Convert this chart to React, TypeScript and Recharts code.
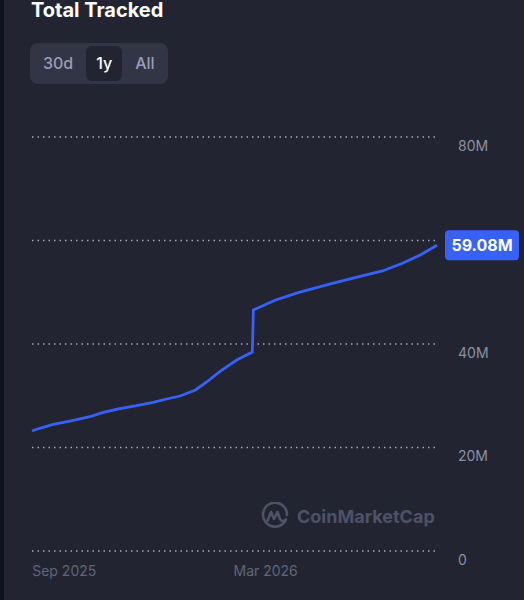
import { ComposedChart, Line, XAxis, YAxis, CartesianGrid, ReferenceDot } from "recharts";

const dates = [
  "2025-08-03", "2025-08-10", "2025-08-22", "2025-09-06", "2025-09-24", "2025-10-06",
  "2025-10-21", "2025-11-05", "2025-11-20", "2025-12-02", "2025-12-14", "2025-12-28",
  "2026-01-07", "2026-01-19", "2026-02-03", "2026-02-17", "2026-02-18", "2026-03-10",
  "2026-03-31", "2026-04-30", "2026-05-24", "2026-06-14", "2026-07-02", "2026-07-18",
  "2026-08-02",
];
const totals = [
  23.19, 23.71, 24.48, 25.12, 25.95, 26.8,
  27.5, 28.08, 28.73, 29.37, 29.95, 31.11,
  32.66, 34.72, 36.91, 38.45, 46.57, 48.5,
  49.99, 51.73, 53.01, 54.11, 55.59, 57.2,
  59.08,
];
const yTicks = [0, 20, 40, 60, 80];
const xTickDates = ["2025-09-01", "2026-03-01"];
const xTickLabels = ["Sep 2025", "Mar 2026"];
const latestLabel = "59.08M";
const ranges = ["30d", "1y", "All"];
const activeRange = "1y";

const BLUE = "#3861FB";
const FONT = "Inter, 'Noto Sans', sans-serif";

const data = dates.map((d, i) => ({ t: Date.parse(d), total: totals[i] }));
const xTicks = xTickDates.map((d) => Date.parse(d));
const last = data[data.length - 1];

// the price tag sits on top of the axis label it overlaps, so that label is not drawn
const YTick = ({ x, y, payload }: any) => {
  if (Math.abs(payload.value - last.total) < 4) return <g />;
  return (
    <text x={x} y={y + 9} dy="0.355em" textAnchor="start" fill="#8b90a4" fontSize={14} fontFamily={FONT}>
      {payload.value === 0 ? "0" : `${payload.value}M`}
    </text>
  );
};

const XTick = ({ x, y, payload }: any) => (
  <text x={x} y={y + 20} dy="0.355em" textAnchor="middle" fill="#5f667b" fontSize={14} fontFamily={FONT}>
    {xTickLabels[xTicks.indexOf(payload.value)]}
  </text>
);

const PriceTag = ({ cx, cy }: any) => (
  <g>
    <rect x={cx + 8} y={cy - 15} width={74} height={30} rx={4} fill={BLUE} />
    <text x={cx + 45} y={cy} dy="0.355em" textAnchor="middle" fill="#fff" fontSize={16} fontWeight={700} fontFamily={FONT}>
      {latestLabel}
    </text>
  </g>
);

export default function App() {
  return (
    <div style={{ position: "fixed", top: 0, left: 0, width: 524, height: 600, background: "#222531", fontFamily: FONT, overflow: "hidden" }}>
      <div style={{ position: "absolute", left: 0, top: 0, width: 4, height: 600, background: "#0c1220" }} />
      <div style={{ position: "absolute", left: 31, top: 0, fontSize: 20, lineHeight: "20px", fontWeight: 700, color: "#fff" }}>
        Total Tracked
      </div>
      <div style={{ position: "absolute", left: 30, top: 43, height: 41, boxSizing: "border-box", padding: 3, gap: 3, display: "flex", background: "#323546", borderRadius: 8 }}>
        {ranges.map((r) => (
          <div key={r} style={{ height: 35, lineHeight: "35px", padding: "0 10px", borderRadius: 6, fontSize: 16, fontWeight: 500, color: r === activeRange ? "#fff" : "#9a9fb3", background: r === activeRange ? "#222531" : "transparent" }}>
            {r}
          </div>
        ))}
      </div>

      <div style={{ position: "absolute", left: 261, top: 502, display: "flex", alignItems: "center", gap: 8, color: "#4d5266" }}>
        <svg width={28} height={28} viewBox="0 0 28 28">
          <path d="M 24.5 18.5 A 12 12 0 1 1 26 13" fill="none" stroke="#4d5266" strokeWidth={2.6} strokeLinecap="round" />
          <path d="M 6.5 19 L 10 10 L 13 17 L 16.5 10 L 19 17 Q 21 21 25 17.5" fill="none" stroke="#4d5266" strokeWidth={2.6} strokeLinecap="round" strokeLinejoin="round" />
        </svg>
        <span style={{ fontSize: 18, fontWeight: 700 }}>CoinMarketCap</span>
      </div>

      <div style={{ position: "absolute", left: 0, top: 0 }}>
        <ComposedChart width={524} height={600} data={data} margin={{ top: 137, right: 0, bottom: 0, left: 32 }}>
          <CartesianGrid vertical={false} stroke="#a3a8ba" strokeWidth={1.5} strokeDasharray="1.5 4" />
          <XAxis
            dataKey="t"
            type="number"
            domain={["dataMin", "dataMax"]}
            ticks={xTicks}
            tick={<XTick />}
            axisLine={false}
            tickLine={false}
            tickSize={0}
            tickMargin={0}
            height={49}
          />
          <YAxis
            orientation="right"
            domain={[0, 80]}
            ticks={yTicks}
            tick={<YTick />}
            axisLine={false}
            tickLine={false}
            tickSize={0}
            tickMargin={21}
            width={87}
          />
          <Line type="linear" dataKey="total" stroke={BLUE} strokeWidth={2.8} dot={false} isAnimationActive={false} />
          <ReferenceDot x={last.t} y={last.total} r={0} ifOverflow="visible" shape={<PriceTag />} />
        </ComposedChart>
      </div>
    </div>
  );
}
